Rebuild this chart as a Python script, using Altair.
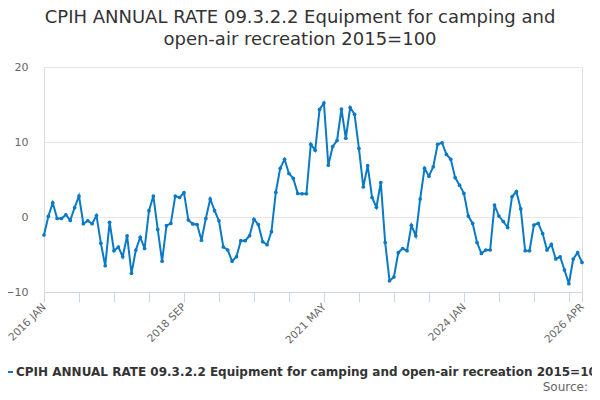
import altair as alt
import pandas as pd

title_lines = ["CPIH ANNUAL RATE 09.3.2.2 Equipment for camping and", "open-air recreation 2015=100"]
series_name = "CPIH ANNUAL RATE 09.3.2.2 Equipment for camping and open-air recreation 2015=100"
source_text = "Source:"

values = [
    -2.4, 0.1, 1.9, -0.2, -0.2, 0.3, -0.45, 1.25, 2.8, -0.9, -0.5, -0.9,
    0.2, -3.5, -6.5, -0.7, -4.5, -4.0, -5.3, -2.5, -7.5, -4.4, -2.7, -4.2,
    0.85, 2.8, -1.65, -5.9, -1.15, -0.85, 2.8, 2.6, 3.25, -0.4, -0.93, -1.0,
    -3.1, -0.2, 2.4, 0.85, -0.5, -4.0, -4.4, -5.9, -5.3, -3.15, -3.15, -2.5,
    -0.3, -1.0, -3.3, -3.7, -1.95, 3.3, 6.5, 7.7, 5.8, 5.15, 3.15, 3.1,
    3.1, 9.7, 8.9, 14.35, 15.2, 6.9, 9.4, 10.2, 14.4, 10.5, 14.6, 13.7,
    9.15, 4.0, 6.85, 2.6, 1.3, 4.6, -3.4, -8.5, -8.0, -4.75, -4.2, -4.5,
    -1.1, -2.5, 2.4, 6.5, 5.45, 6.7, 9.7, 9.9, 8.35, 7.7, 5.25, 4.25,
    3.15, 0.13, -0.85, -3.4, -4.85, -4.4, -4.4, 1.6, 0.13, -0.6, -1.4, 2.7,
    3.4, 1.07, -4.5, -4.5, -1.07, -0.85, -2.2, -4.4, -3.65, -5.6, -5.3, -7.07,
    -8.9, -5.6, -4.75, -6.05,
]
months = [d.strftime("%Y %b").upper() for d in pd.date_range("2016-01-01", periods=len(values), freq="MS")]
tick_positions = list(range(0, len(values), 8)) + [len(values) - 1]
labelled_positions = [0, 32, 64, 96, len(values) - 1]
y_ticks = [-10, 0, 10, 20]

df = pd.DataFrame({"i": list(range(len(values))), "month": months, "value": values, "series": series_name})

label_expr = "''"
for p in reversed(labelled_positions):
    label_expr = f"datum.value == {p} ? '{months[p]}' : ({label_expr})"

blue = "#0a7ac6"

line = alt.Chart(df).mark_line(
    strokeWidth=2, point=alt.OverlayMarkDef(filled=True, size=14, color=blue)
).encode(
    x=alt.X("i:Q", title=None,
            scale=alt.Scale(domain=[0, len(values) - 1], nice=False, zero=False),
            axis=alt.Axis(values=tick_positions, labelExpr=label_expr, grid=False,
                          domainColor="#ccd6eb", tickColor="#ccd6eb", tickSize=10,
                          labelAngle=315, labelAlign="right", labelBaseline="middle",
                          labelPadding=3, labelFontSize=10.5, labelColor="#666666",
                          labelFont="DejaVu Sans", labelOverlap=False)),
    y=alt.Y("value:Q", title=None,
            scale=alt.Scale(domain=[-10, 20], nice=False),
            axis=alt.Axis(values=y_ticks, domain=False, ticks=False, gridColor="#e6e6e6",
                          labelPadding=16, labelFontSize=11, labelColor="#666666",
                          labelFont="DejaVu Sans")),
    color=alt.Color("series:N", scale=alt.Scale(range=[blue]),
                    legend=alt.Legend(orient="none", legendX=-42, legendY=299, title=None,
                                      symbolType="stroke", symbolStrokeWidth=2, symbolSize=100,
                                      labelOffset=2, labelFontSize=12, labelFontWeight="bold",
                                      labelColor="#333333", labelFont="DejaVu Sans",
                                      labelLimit=2000, padding=0)),
)

source = alt.Chart(pd.DataFrame({"t": [source_text]})).mark_text(
    align="right", baseline="alphabetic", fontSize=12, color="#666666", font="DejaVu Sans"
).encode(x=alt.value(544), y=alt.value(324), text="t:N")

chart = alt.layer(line, source).properties(
    width=538, height=225,
    padding={"left": 36, "top": 59, "right": 10, "bottom": 100},
    autosize=alt.AutoSizeParams(type="none"),
    title=alt.TitleParams(text=title_lines, fontSize=18, font="DejaVu Sans", fontWeight="normal",
                          color="#333333", anchor="middle", dx=-13, offset=12, lineHeight=22),
).configure_view(stroke=None).configure(background="white")

chart.save("out.html", embed_options={"renderer": "svg", "actions": False})
